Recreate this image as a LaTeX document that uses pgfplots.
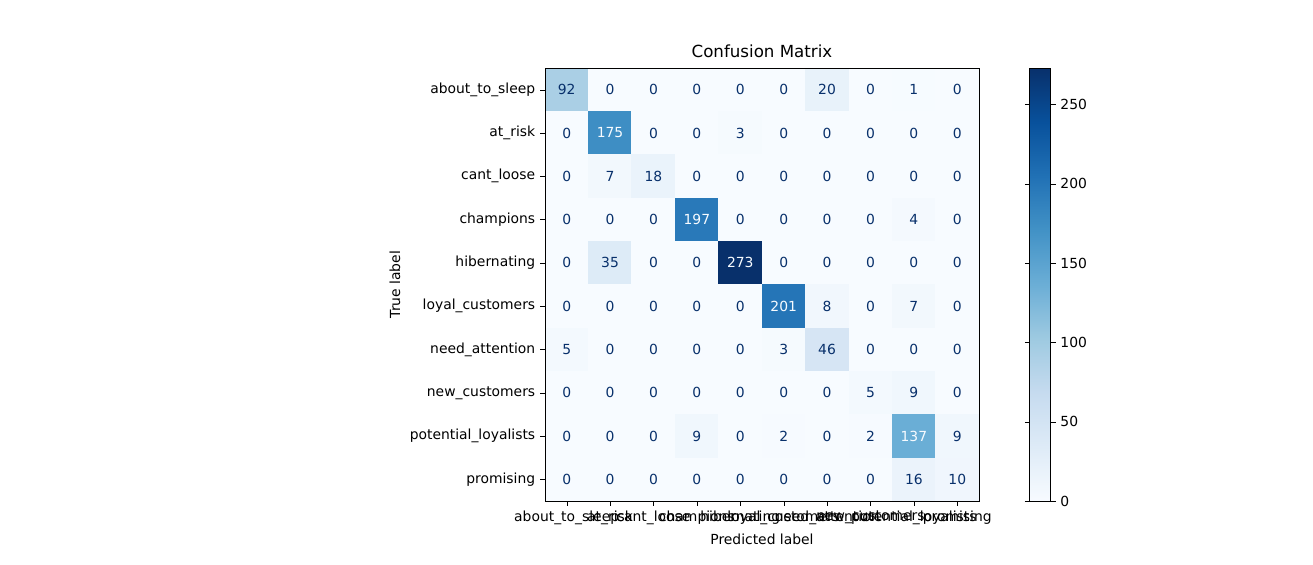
\documentclass[border=0pt]{standalone}
\usepackage{pgfplots}
\pgfplotsset{compat=1.18}
\usepackage{pgfplotstable}
\usepackage{fontspec}
\setmainfont{DejaVu Sans}
\definecolor{dk}{HTML}{08306B}
\definecolor{lt}{HTML}{F7FBFF}
\pgfplotstableread{
x y c
0 0 92
1 0 0
2 0 0
3 0 0
4 0 0
5 0 0
6 0 20
7 0 0
8 0 1
9 0 0
0 1 0
1 1 175
2 1 0
3 1 0
4 1 3
5 1 0
6 1 0
7 1 0
8 1 0
9 1 0
0 2 0
1 2 7
2 2 18
3 2 0
4 2 0
5 2 0
6 2 0
7 2 0
8 2 0
9 2 0
0 3 0
1 3 0
2 3 0
3 3 197
4 3 0
5 3 0
6 3 0
7 3 0
8 3 4
9 3 0
0 4 0
1 4 35
2 4 0
3 4 0
4 4 273
5 4 0
6 4 0
7 4 0
8 4 0
9 4 0
0 5 0
1 5 0
2 5 0
3 5 0
4 5 0
5 5 201
6 5 8
7 5 0
8 5 7
9 5 0
0 6 5
1 6 0
2 6 0
3 6 0
4 6 0
5 6 3
6 6 46
7 6 0
8 6 0
9 6 0
0 7 0
1 7 0
2 7 0
3 7 0
4 7 0
5 7 0
6 7 0
7 7 5
8 7 9
9 7 0
0 8 0
1 8 0
2 8 0
3 8 9
4 8 0
5 8 2
6 8 0
7 8 2
8 8 137
9 8 9
0 9 0
1 9 0
2 9 0
3 9 0
4 9 0
5 9 0
6 9 0
7 9 0
8 9 16
9 9 10
}\cm
\begin{document}
\begin{tikzpicture}
\path[use as bounding box] (-392.4pt,-45.4pt) rectangle (553pt,360.8pt);
\begin{axis}[
  at={(0,0)}, anchor=south west,
  scale only axis, width=312.5pt, height=311.8pt,
  axis on top,
  /pgf/number format/assume math mode=true,
  xmin=-0.5, xmax=9.5, ymin=-0.5, ymax=9.5, y dir=reverse,
  xtick={0,...,9}, ytick={0,...,9},
  xticklabels={about\_to\_sleep,at\_risk,cant\_loose,champions,hibernating,loyal\_customers,need\_attention,new\_customers,potential\_loyalists,promising},
  yticklabels={about\_to\_sleep,at\_risk,cant\_loose,champions,hibernating,loyal\_customers,need\_attention,new\_customers,potential\_loyalists,promising},
  tick align=outside, major tick length=3.5pt, tick style={black},
  xtick pos=bottom, ytick pos=left,
  ticklabel style={font=\fontsize{10}{12}\selectfont},
  xlabel={Predicted label}, ylabel={True label},
  label style={font=\fontsize{10}{12}\selectfont},
  title={Confusion Matrix}, title style={font=\fontsize{12}{14}\selectfont, yshift=-2pt},
  colormap={blues}{HTML=(F7FBFF) HTML=(DEEBF7) HTML=(C6DBEF) HTML=(9ECAE1) HTML=(6BAED6) HTML=(4292C6) HTML=(2171B5) HTML=(08519C) HTML=(08306B)},
  point meta min=0, point meta max=273,
  colorbar,
  colorbar style={at={(parent axis.north east)}, anchor=north west, xshift=28pt,
    width=15.1pt, height=311.8pt, ytick={0,50,...,250}, tick align=outside,
    major tick length=3.5pt, yticklabel style={font=\fontsize{10}{12}\selectfont},
    /pgf/number format/assume math mode=true},
]
\addplot[matrix plot*, mesh/cols=10, point meta=explicit] table[x=x,y=y,meta=c]{\cm};
\addplot[only marks, mark=none, point meta=\thisrow{c},
  restrict expr to domain={\thisrow{c}}{137:300},
  nodes near coords={\pgfmathprintnumber[assume math mode=true]{\pgfplotspointmeta}},
  nodes near coords style={anchor=center, text=lt, font=\fontsize{10}{12}\selectfont}] table[x=x,y=y]{\cm};
\addplot[only marks, mark=none, point meta=\thisrow{c},
  restrict expr to domain={\thisrow{c}}{-1:136},
  nodes near coords={\pgfmathprintnumber[assume math mode=true]{\pgfplotspointmeta}},
  nodes near coords style={anchor=center, text=dk, font=\fontsize{10}{12}\selectfont}] table[x=x,y=y]{\cm};
\end{axis}
\end{tikzpicture}
\end{document}
